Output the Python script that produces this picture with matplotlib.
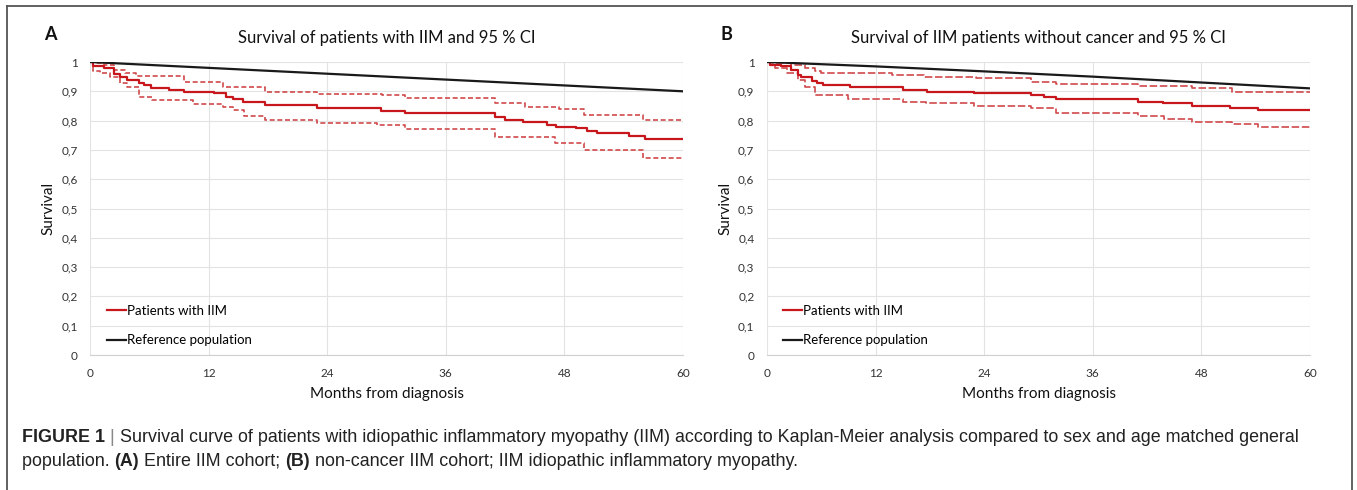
import matplotlib
matplotlib.use("Agg")
import matplotlib.pyplot as plt
from matplotlib.lines import Line2D

plt.rcParams['font.family'] = ['Lato', 'DejaVu Sans']

# panel A: entire cohort (step curves, months / survival)
a_km_t = [0, 0.3, 1.4, 2.4, 3.0, 3.7, 5.0, 5.5, 6.2, 8.0, 9.5, 12.5, 13.8, 14.5, 15.5, 17.7,
          23.0, 29.4, 31.9, 41.0, 42.0, 43.8, 46.2, 47.2, 49.2, 50.3, 51.3, 54.5, 56.2, 60]
a_km_s = [1.0, 0.986, 0.98, 0.96, 0.95, 0.938, 0.928, 0.921, 0.91, 0.905, 0.899, 0.893, 0.882, 0.873,
          0.865, 0.853, 0.842, 0.833, 0.825, 0.813, 0.802, 0.794, 0.785, 0.779, 0.774, 0.765, 0.757,
          0.747, 0.736, 0.736]
a_hi_t = [0, 0.3, 1.4, 2.4, 3.5, 4.7, 9.5, 13.5, 17.7, 23.0, 29.5, 31.9, 41.0, 44.0, 47.5, 50.0, 56.0, 60]
a_hi_s = [1.0, 0.995, 0.99, 0.973, 0.962, 0.952, 0.933, 0.916, 0.899, 0.891, 0.887, 0.876, 0.859,
          0.848, 0.839, 0.819, 0.802, 0.802]
a_lo_t = [0, 0.3, 1.0, 2.0, 3.0, 3.7, 5.0, 6.3, 10.4, 13.5, 14.5, 15.6, 17.7, 23.0, 29.0, 31.9,
          41.0, 47.0, 50.0, 56.0, 60]
a_lo_s = [1.0, 0.97, 0.962, 0.95, 0.93, 0.916, 0.882, 0.870, 0.857, 0.845, 0.836, 0.816, 0.802,
          0.791, 0.785, 0.770, 0.743, 0.723, 0.700, 0.673, 0.673]
a_ref_t = [0, 12, 24, 36, 48, 60]
a_ref_s = [1.0, 0.98, 0.96, 0.94, 0.92, 0.90]

# panel B: non-cancer cohort
b_km_t = [0, 0.3, 1.6, 2.7, 3.4, 3.8, 5.0, 5.5, 6.2, 9.2, 15.0, 17.7, 22.9, 29.2, 30.6, 31.9,
          41.0, 43.8, 47.0, 51.2, 54.3, 60]
b_km_s = [1.0, 0.99, 0.985, 0.973, 0.956, 0.95, 0.936, 0.927, 0.921, 0.913, 0.906, 0.899, 0.895,
          0.889, 0.882, 0.873, 0.865, 0.859, 0.851, 0.842, 0.835, 0.835]
b_hi_t = [0, 0.5, 2.7, 4.2, 5.3, 6.0, 13.8, 17.3, 23.1, 29.2, 31.9, 41.0, 47.0, 51.4, 60]
b_hi_s = [1.0, 0.995, 0.99, 0.98, 0.968, 0.962, 0.957, 0.95, 0.944, 0.933, 0.925, 0.918, 0.91,
          0.899, 0.899]
b_lo_t = [0, 0.3, 0.9, 2.2, 3.4, 4.2, 5.3, 9.0, 15.0, 17.6, 22.9, 29.2, 31.9, 41.0, 43.9, 47.0,
          51.4, 54.3, 60]
b_lo_s = [1.0, 0.99, 0.978, 0.961, 0.939, 0.916, 0.887, 0.874, 0.865, 0.859, 0.850, 0.842, 0.825,
          0.816, 0.804, 0.796, 0.788, 0.777, 0.777]
b_ref_t = [0, 12, 24, 36, 48, 60]
b_ref_s = [1.0, 0.985, 0.968, 0.95, 0.93, 0.91]

x_ticks = [0, 12, 24, 36, 48, 60]
y_ticks = [i / 10 for i in range(11)]
y_labels = ['0', '0,1', '0,2', '0,3', '0,4', '0,5', '0,6', '0,7', '0,8', '0,9', '1']

RED = '#c8161d'
RED_CI = '#d0494c'
TXT = '#333333'


def draw_panel(ax, km, hi, lo, ref, title, dashes):
    ax.step(km[0], km[1], where='post', color=RED, lw=1.6, label='Patients with IIM', zorder=4)
    ax.step(hi[0], hi[1], where='post', color=RED_CI, lw=1.2, dashes=dashes, zorder=3)
    ax.step(lo[0], lo[1], where='post', color=RED_CI, lw=1.2, dashes=dashes, zorder=3)
    ax.plot(ref[0], ref[1], color='#1a1a1a', lw=1.6, label='Reference population', zorder=4)
    ax.set_xlim(0, 60)
    ax.set_ylim(0, 1)
    ax.set_xticks(x_ticks)
    ax.set_yticks(y_ticks)
    ax.set_yticklabels(y_labels)
    ax.tick_params(length=0, labelsize=8.5, colors=TXT, pad=9)
    ax.grid(color='#e3e3e3', lw=0.8)
    ax.set_axisbelow(True)
    for side in ['top', 'right', 'left']:
        ax.spines[side].set_visible(False)
    ax.spines['bottom'].set_color('#d0d0d0')
    ax.set_xlabel('Months from diagnosis', fontsize=11, color='#111111', labelpad=6)
    ax.set_ylabel('Survival', fontsize=11, color='#111111', labelpad=4)
    ax.set_title(title, fontsize=12, color='#111111', pad=14)
    ax.legend(loc='lower left', frameon=False, fontsize=9.5, handlelength=1.4,
              handletextpad=0.1, labelspacing=1.3, borderaxespad=0.0,
              bbox_to_anchor=(0.02, 0.012))


fig = plt.figure(figsize=(13.57, 4.9), dpi=100)
ax_a = fig.add_axes([90 / 1357, 1 - 355 / 490, 593 / 1357, 293 / 490])
ax_b = fig.add_axes([767 / 1357, 1 - 355 / 490, 543 / 1357, 293 / 490])

draw_panel(ax_a, (a_km_t, a_km_s), (a_hi_t, a_hi_s), (a_lo_t, a_lo_s), (a_ref_t, a_ref_s),
           'Survival of patients with IIM and 95 % CI', (3, 1.6))
draw_panel(ax_b, (b_km_t, b_km_s), (b_hi_t, b_hi_s), (b_lo_t, b_lo_s), (b_ref_t, b_ref_s),
           'Survival of IIM patients without cancer and 95 % CI', (4.5, 1.6))

fig.text(44 / 1357, 1 - 35 / 490, 'A', fontsize=13, fontweight='bold', va='center', color='#111111')
fig.text(720 / 1357, 1 - 35 / 490, 'B', fontsize=13, fontweight='bold', va='center', color='#111111')

# outer frame (left, top, right)
for xs, ys in [([7, 7], [490, 6]), ([7, 1352], [6, 6]), ([1352, 1352], [6, 490])]:
    fig.add_artist(Line2D([x / 1357 for x in xs], [1 - y / 490 for y in ys],
                          color='#555555', lw=1.3, transform=fig.transFigure))

# caption with mixed weights
renderer = fig.canvas.get_renderer()
cap_font = ['Liberation Sans', 'DejaVu Sans']


def caption_line(parts, x0, y0):
    x = x0
    for txt, bold, col in parts:
        t = fig.text(x, y0, txt, fontsize=12.9, family=cap_font, va='center',
                     fontweight='bold' if bold else 'normal', color=col)
        bb = t.get_window_extent(renderer=renderer)
        x += bb.width / fig.bbox.width


caption_line([('FIGURE 1 ', True, '#222222'), ('| ', False, '#888888'),
              ('Survival curve of patients with idiopathic inflammatory myopathy (IIM) according to '
               'Kaplan-Meier analysis compared to sex and age matched general', False, '#222222')],
             22 / 1357, 1 - 437 / 490)
caption_line([('population. ', False, '#222222'), ('(A)', True, '#222222'),
              (' Entire IIM cohort; ', False, '#222222'), ('(B)', True, '#222222'),
              (' non-cancer IIM cohort; IIM idiopathic inflammatory myopathy.', False, '#222222')],
             22 / 1357, 1 - 461 / 490)

fig.savefig('out.png', dpi=100)
